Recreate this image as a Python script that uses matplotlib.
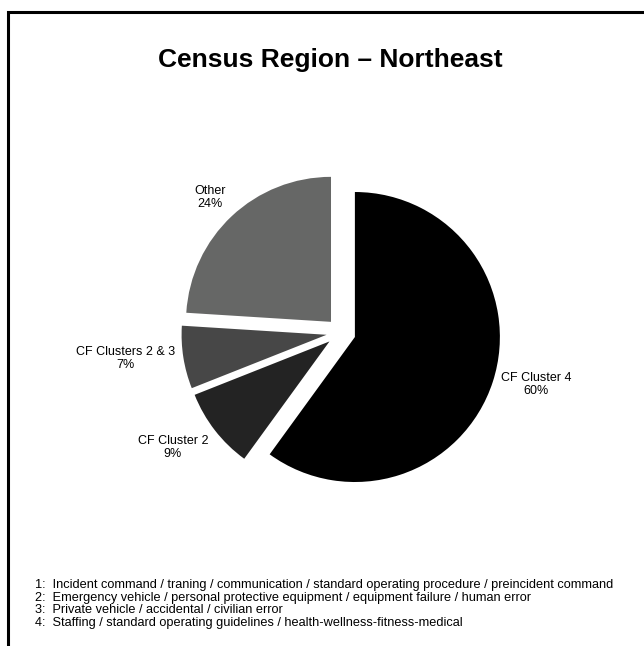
import math
import matplotlib
matplotlib.use("Agg")
import matplotlib.pyplot as plt
from matplotlib.lines import Line2D

plt.rcParams["font.family"] = ["Liberation Sans", "DejaVu Sans"]

# Data
categories = ["CF Cluster 4", "CF Cluster 2", "CF Clusters 2 & 3", "Other"]
shares = [60, 9, 7, 24]
colors = ["#000000", "#232323", "#474747", "#666766"]
title = "Census Region \u2013 Northeast"
notes = [
    "1:  Incident command / traning / communication / standard operating procedure / preincident command",
    "2:  Emergency vehicle / personal protective equipment / equipment failure / human error",
    "3:  Private vehicle / accidental / civilian error",
    "4:  Staffing / standard operating guidelines / health-wellness-fitness-medical",
]

W, H = 644, 646
fig = plt.figure(figsize=(W / 100, H / 100), dpi=100)
ax = fig.add_axes([0, 0, 1, 1])

# Frame (left and top edges)
ax.add_line(Line2D([7.8, 7.8, W + 5], [-5, H - 11.5, H - 11.5], color="black", lw=2.2,
                   solid_joinstyle="miter"))

cx, cy, r, gap = 341, H - 332.5, 145, 14.6
wedges, _ = ax.pie(shares, colors=colors, startangle=90, counterclock=False,
                   radius=r, center=(cx, cy), explode=[gap] * len(shares),
                   wedgeprops=dict(linewidth=0), frame=True)
ax.set_xlim(0, W)
ax.set_ylim(0, H)
ax.set_aspect("equal")
ax.axis("off")

# Outside-end labels
total = sum(shares)
for w, name, val in zip(wedges, categories, shares):
    tm = math.radians((w.theta1 + w.theta2) / 2)
    c, s = math.cos(tm), math.sin(tm)
    d = gap + 1.058 * r
    x, y = cx + d * c, cy + d * s
    ha = "left" if c > 0 else "right"
    va = "bottom" if s > 0.5 else ("top" if s < -0.5 else "center")
    ax.text(x, y, f"{name}\n{round(100 * val / total)}%", ha=ha, va=va,
            multialignment="center", fontsize=9, linespacing=1.1)

ax.text(330.5, H - 60, title, ha="center", va="center", fontsize=19, fontweight="bold")

for i, line in enumerate(notes):
    ax.text(35, H - 585 - 12.7 * i, line, ha="left", va="center", fontsize=9.2)

fig.savefig("out.png", dpi=100)
